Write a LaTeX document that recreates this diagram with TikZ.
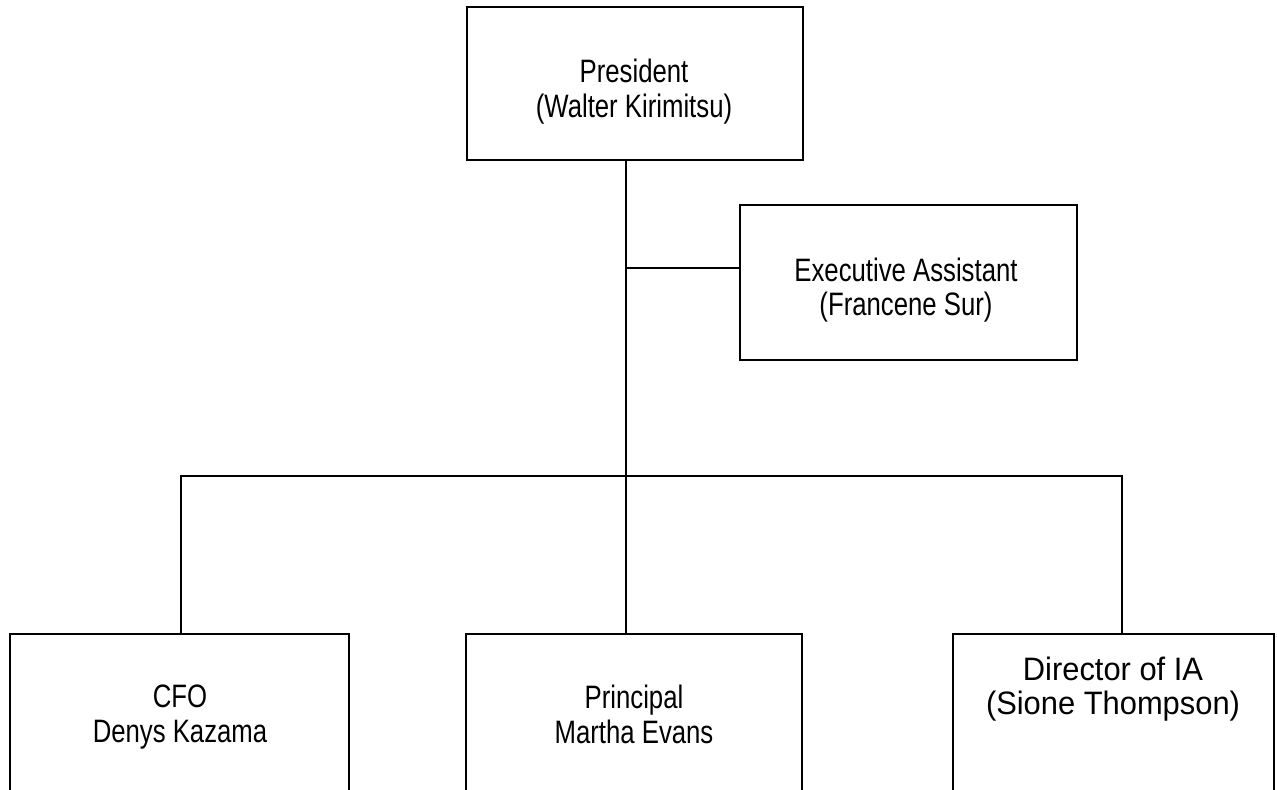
\documentclass[tikz,border=0pt]{standalone}
\usepackage{fontspec}
\setmainfont{Liberation Sans}
\newcommand\talltext[1]{\scalebox{1}[1.26]{#1}}
\newcommand\widetext[1]{\scalebox{1.2}[1.26]{#1}}
\begin{document}
\begin{tikzpicture}[x=0.75pt,y=-0.75pt,
  box/.style={draw=black,line width=1.1pt,rectangle,inner sep=0pt},
  conn/.style={draw=black,line width=1.8pt},
  txt/.style={anchor=base,inner sep=0pt,font=\fontsize{19.3}{24}\selectfont}]
\useasboundingbox (0,0) rectangle (1277,789);
\fill[white] (0,0) rectangle (1277,789);
\clip (0,0) rectangle (1277,789);
% boxes
\node[box,minimum width=252pt,minimum height=114.75pt] (pres) at (635,83.5) {};
\node[box,minimum width=252.75pt,minimum height=116.25pt] (exec) at (908.5,282.5) {};
\node[box,minimum width=254.25pt,minimum height=135pt] (cfo) at (179.5,724) {};
\node[box,minimum width=252pt,minimum height=135pt] (prin) at (634,724) {};
\node[box,minimum width=240.75pt,minimum height=135pt] (dir) at (1113.5,724) {};
% texts
\node[txt] (pres1) at (634,82) {\talltext{President}};
\node[txt] (pres2) at (634,117) {\talltext{(Walter Kirimitsu)}};
\node[txt] (exec1) at (906,281) {\talltext{Executive Assistant}};
\node[txt] (exec2) at (906,315) {\talltext{(Francene Sur)}};
\node[txt] (cfo1) at (180,707) {\talltext{CFO}};
\node[txt] (cfo2) at (180,742) {\talltext{Denys Kazama}};
\node[txt] (prin1) at (634,708) {\talltext{Principal}};
\node[txt] (prin2) at (634,743) {\talltext{Martha Evans}};
\node[txt] (dir1) at (1113,680) {\widetext{Director of IA}};
\node[txt] (dir2) at (1113,714) {\widetext{(Sione Thompson)}};
% junctions
\coordinate (j1) at (626,268);
\coordinate (dl) at (181,476);
\coordinate (dr) at (1122,476);
% connectors
\draw[conn] (pres.south -| j1) -- (prin.north -| j1);
\draw[conn] (j1) -- (exec.west |- j1);
\draw[conn] (cfo.north -| dl) -- (dl) -- (dr) -- (dir.north -| dr);
\end{tikzpicture}
\end{document}
